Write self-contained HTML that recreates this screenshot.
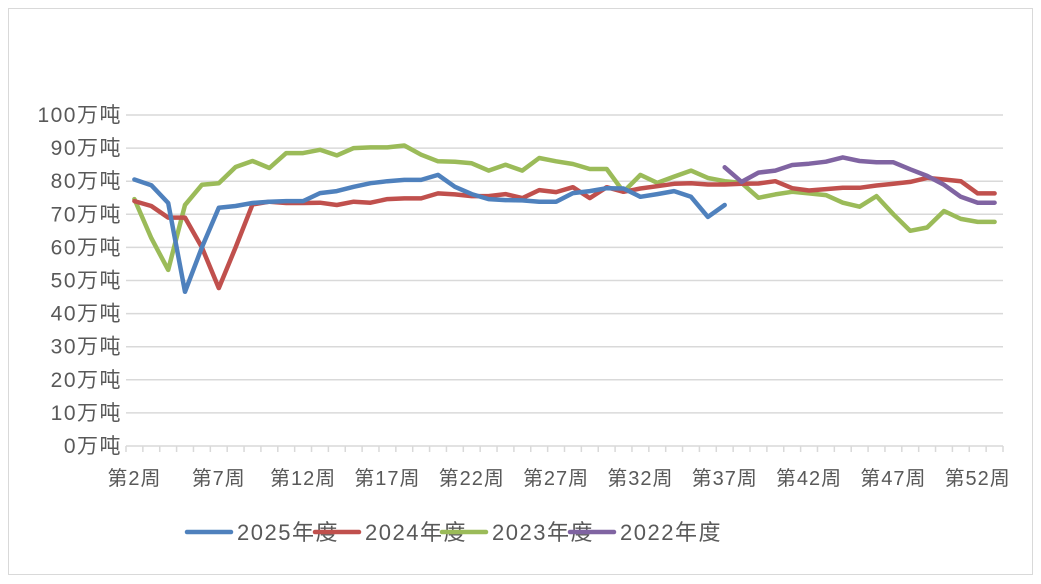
<!DOCTYPE html>
<html><head><meta charset="utf-8"><style>
body{margin:0;background:#fff;}
svg{display:block;font-family:"Liberation Sans","Noto Sans CJK SC",sans-serif;}
</style></head><body>
<svg id="chart" width="1041" height="584" viewBox="0 0 1041 584" xmlns="http://www.w3.org/2000/svg">
<rect x="8.5" y="8.5" width="1024" height="566" fill="#fff" stroke="#d9d9d9"/>
<g id="grid"></g>
<g id="yaxis"></g>
<g id="xaxis"></g>
<g id="series"></g>
<g id="legend"></g>
</svg>
<script>
const weeks = [];
for (let w = 2; w <= 53; w++) weeks.push(w);
const yTicks = [0,10,20,30,40,50,60,70,80,90,100];
const xLabelWeeks = [2,7,12,17,22,27,32,37,42,47,52];
const s2025 = [80.5,78.8,73.4,46.6,60,72,72.5,73.4,73.8,74,74,76.4,77,78.3,79.4,80,80.4,80.4,81.9,78.3,76.1,74.6,74.3,74.2,73.8,73.8,76.4,77,77.9,77.8,75.3,76.1,77,75.3,69.2,72.8];
const s2024 = [74,72.5,69,69,60,47.7,60,73,73.8,73.4,73.4,73.5,72.8,73.8,73.5,74.6,74.8,74.8,76.3,76,75.5,75.5,76.1,74.9,77.3,76.7,78.2,74.9,78.2,76.8,77.8,78.5,79.2,79.4,79,79,79.2,79.3,80,77.9,77.2,77.6,78,78,78.7,79.2,79.8,81,80.5,80,76.3,76.3];
const s2023 = [74.6,62.8,53.2,72.8,78.9,79.4,84.3,86.1,84,88.5,88.5,89.5,87.8,90,90.2,90.2,90.8,88,86,85.9,85.4,83.2,85,83.2,87,86,85.2,83.7,83.7,76.8,81.9,79.5,81.4,83.2,81,80,79.5,75,76,76.8,76.3,75.8,73.5,72.3,75.5,70,65,66,71,68.6,67.7,67.7];
const s2022Start = 37;
const s2022 = [84.2,79.8,82.6,83.2,84.9,85.3,85.9,87.2,86.1,85.7,85.7,83.6,81.6,78.9,75.3,73.5,73.5];
const seriesNames = ["2025年度","2024年度","2023年度","2022年度"];
const seriesColors = ["#4f81bd","#c0504d","#9bbb59","#8064a2"];

const NS="http://www.w3.org/2000/svg";
const X0=126, X1=1003, Y0=446, Y100=115;
const cw=(X1-X0)/weeks.length;
const xPos = w => X0 + (weeks.indexOf(w)+0.5)*cw;
const yPos = v => Y0 - (v/100)*(Y0-Y100);
function mk(tag, attrs, parent){const e=document.createElementNS(NS,tag);for(const k in attrs)e.setAttribute(k,attrs[k]);parent.appendChild(e);return e;}

const grid=document.getElementById('grid'), yax=document.getElementById('yaxis'), xax=document.getElementById('xaxis');
yTicks.forEach(t=>{
  const y=yPos(t);
  if(t>0){const l=mk('line',{x1:X0,x2:X1,y1:y,y2:y,stroke:'#d9d9d9','stroke-width':1.5},grid);
    
    }
  const tx=mk('text',{x:122,y:y+7,'text-anchor':'end','font-size':21,'letter-spacing':1.5,fill:'#595959'},yax);
  
  
  tx.textContent=t+'万吨';
});
mk('line',{x1:X0,x2:X1,y1:Y0,y2:Y0,stroke:'#d9d9d9','stroke-width':1.5},xax);
for(let i=0;i<=weeks.length;i++){
  const x=X0+i*cw;
  mk('line',{x1:x,x2:x,y1:Y0,y2:Y0+6,stroke:'#d9d9d9','stroke-width':1.5},xax);
}
xLabelWeeks.forEach(w=>{
  const tx=mk('text',{x:xPos(w),y:485,'text-anchor':'middle','font-size':20,'letter-spacing':1,fill:'#595959'},xax);
  
  
  tx.textContent='第'+w+'周';
});
const ser=document.getElementById('series');
function drawLine(vals,startWeek,color,name){
  const pts=vals.map((v,i)=>xPos(startWeek+i).toFixed(1)+','+yPos(v).toFixed(1)).join(' ');
  const p=mk('polyline',{points:pts,fill:'none',stroke:color,'stroke-width':4.5,'stroke-linejoin':'round','stroke-linecap':'round'},ser);
  
  
}
drawLine(s2023,2,seriesColors[2],'line-2023');
drawLine(s2024,2,seriesColors[1],'line-2024');
drawLine(s2025,2,seriesColors[0],'line-2025');
drawLine(s2022,s2022Start,seriesColors[3],'line-2022');

const lg=document.getElementById('legend');
const lx=[187,315,442,570];
seriesNames.forEach((n,i)=>{
  const g=mk('g',{},lg);
  
  
  mk('line',{x1:lx[i],x2:lx[i]+44,y1:532,y2:532,stroke:seriesColors[i],'stroke-width':4.5,'stroke-linecap':'round'},g);
  const t=mk('text',{x:lx[i]+50,y:540,'font-size':22,'letter-spacing':1.5,fill:'#595959'},g);
  t.textContent=n;
});
</script>
</body></html>
